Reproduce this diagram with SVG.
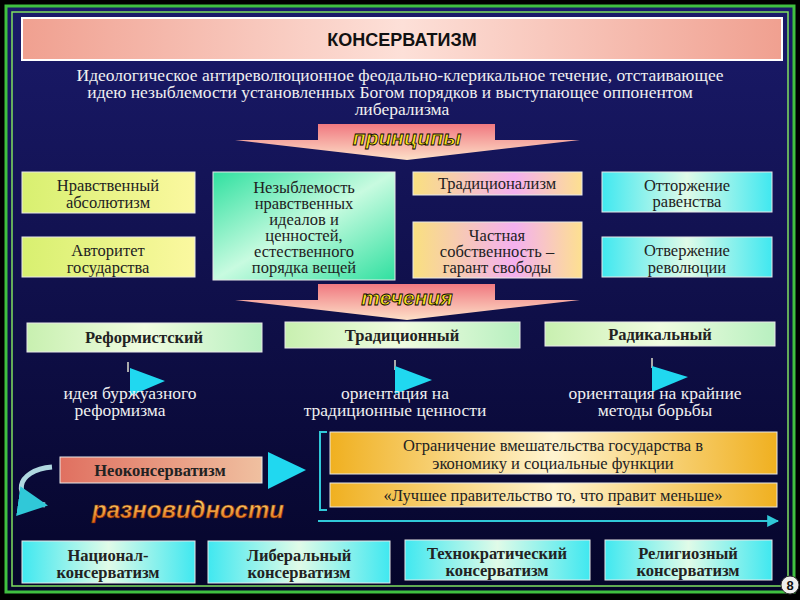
<svg xmlns="http://www.w3.org/2000/svg" width="800" height="600" viewBox="0 0 800 600">
<defs>
<linearGradient id="bg" x1="0" y1="0" x2="0" y2="1"><stop offset="0" stop-color="#1a1a6a"/><stop offset="1" stop-color="#05052a"/></linearGradient>
<linearGradient id="title" x1="0" y1="0" x2="1" y2="0"><stop offset="0" stop-color="#f0a090"/><stop offset="0.5" stop-color="#fde0d8"/><stop offset="1" stop-color="#f0a090"/></linearGradient>
<linearGradient id="yg" x1="0" y1="0" x2="1" y2="0"><stop offset="0" stop-color="#d8f070"/><stop offset="1" stop-color="#fbf8a0"/></linearGradient>
<linearGradient id="gr" x1="0" y1="0" x2="1" y2="1"><stop offset="0" stop-color="#30e0a0"/><stop offset="0.5" stop-color="#c8fbe0"/><stop offset="1" stop-color="#30e0a0"/></linearGradient>
<linearGradient id="pk" x1="0" y1="0" x2="1" y2="0"><stop offset="0" stop-color="#f9e080"/><stop offset="0.6" stop-color="#f4b0f0"/><stop offset="1" stop-color="#fde090"/></linearGradient>
<linearGradient id="cy" x1="0" y1="0" x2="1" y2="0"><stop offset="0" stop-color="#40e8f0"/><stop offset="0.5" stop-color="#e0fbe8"/><stop offset="1" stop-color="#40e8f0"/></linearGradient>
<linearGradient id="lg" x1="0" y1="0" x2="1" y2="0"><stop offset="0" stop-color="#c8f0b0"/><stop offset="0.5" stop-color="#f0fce0"/><stop offset="1" stop-color="#b8f0c0"/></linearGradient>
<linearGradient id="or" x1="0" y1="0" x2="1" y2="0"><stop offset="0" stop-color="#f0b020"/><stop offset="0.5" stop-color="#fff4d0"/><stop offset="1" stop-color="#f0b020"/></linearGradient>
<linearGradient id="sal" x1="0" y1="0" x2="1" y2="0"><stop offset="0" stop-color="#e07060"/><stop offset="1" stop-color="#f0c0a0"/></linearGradient>
<linearGradient id="arr" x1="0" y1="0" x2="0" y2="1"><stop offset="0" stop-color="#f07880"/><stop offset="1" stop-color="#fde0c8"/></linearGradient>
<linearGradient id="raz" x1="0" y1="0" x2="0" y2="1"><stop offset="0" stop-color="#fff080"/><stop offset="1" stop-color="#e06010"/></linearGradient>
<marker id="ah" viewBox="0 0 10 10" refX="9" refY="5" markerWidth="6" markerHeight="6" orient="auto"><path d="M0,0 L10,5 L0,10 z" fill="#30c8d8"/></marker>
</defs>
<style>
.t{font-family:"Liberation Serif",serif;font-size:16.5px;fill:#222;text-anchor:middle}
.b{font-weight:bold}
.w{font-family:"Liberation Serif",serif;font-size:17.5px;fill:#f0f0f0;text-anchor:middle}
.bx{stroke:#e8e8e8;stroke-width:1}
.tri{fill:#20d8f0}
.stem{stroke:#aaa;stroke-width:2}
.lbl{font-family:"Liberation Sans",sans-serif;font-weight:bold;font-style:italic;font-size:21px;text-anchor:middle;stroke:#000;stroke-width:0.8}
</style>
<rect width="800" height="600" fill="#000"/>
<rect x="6" y="6" width="788" height="586" fill="url(#bg)" stroke="#40c040" stroke-width="3"/>
<rect x="12" y="12" width="776" height="574" fill="none" stroke="#80e060" stroke-width="1.5"/>
<g id="title-node"><rect x="22" y="18" width="760" height="42" fill="url(#title)" stroke="#fff" stroke-width="2"/><text x="402" y="46" font-family="Liberation Sans,sans-serif" font-weight="bold" font-size="18" text-anchor="middle" fill="#111">КОНСЕРВАТИЗМ</text></g>
<g id="definition"><text class="w" x="400" y="81">Идеологическое антиреволюционное феодально-клерикальное течение, отстаивающее</text><text class="w" x="390" y="98">идею незыблемости установленных Богом порядков и выступающее оппонентом</text><text class="w" x="402" y="115">либерализма</text></g>
<g id="arrow-principles"><path d="M318,124 H495 V140 H580 L407,160 L235,140 H318 Z" fill="url(#arr)"/><text class="lbl" x="407" y="145" fill="#f8e020">принципы</text></g>
<g id="n1"><rect class="bx" x="22" y="172" width="173" height="41" fill="url(#yg)"/><text class="t" x="108" y="191">Нравственный</text><text class="t" x="108" y="208">абсолютизм</text></g>
<g id="n2"><rect class="bx" x="22" y="237" width="173" height="40" fill="url(#yg)"/><text class="t" x="108" y="256">Авторитет</text><text class="t" x="108" y="273">государства</text></g>
<g id="n3"><rect class="bx" x="213" y="172" width="182" height="108" fill="url(#gr)"/><text class="t" x="304" y="193">Незыблемость</text><text class="t" x="304" y="209">нравственных</text><text class="t" x="304" y="225">идеалов и</text><text class="t" x="304" y="241">ценностей,</text><text class="t" x="304" y="257">естественного</text><text class="t" x="304" y="273">порядка вещей</text></g>
<g id="n4"><rect class="bx" x="413" y="172" width="169" height="23" fill="url(#pk)"/><text class="t" x="497" y="189">Традиционализм</text></g>
<g id="n5"><rect class="bx" x="413" y="222" width="169" height="56" fill="url(#pk)"/><text class="t" x="497" y="241">Частная</text><text class="t" x="497" y="257">собственность –</text><text class="t" x="497" y="273">гарант свободы</text></g>
<g id="n6"><rect class="bx" x="602" y="172" width="170" height="40" fill="url(#cy)"/><text class="t" x="687" y="191">Отторжение</text><text class="t" x="687" y="207">равенства</text></g>
<g id="n7"><rect class="bx" x="602" y="237" width="170" height="40" fill="url(#cy)"/><text class="t" x="687" y="256">Отвержение</text><text class="t" x="687" y="273">революции</text></g>
<g id="arrow-currents"><path d="M318,284 H495 V300 H580 L407,320 L235,300 H318 Z" fill="url(#arr)"/><text class="lbl" x="407" y="305" fill="#f8e020">течения</text></g>
<g id="c1"><rect class="bx" x="27" y="323" width="235" height="29" fill="url(#lg)"/><text class="t b" x="144" y="343">Реформистский</text></g>
<g id="c2"><rect class="bx" x="285" y="322" width="235" height="26" fill="url(#lg)"/><text class="t b" x="402" y="341">Традиционный</text></g>
<g id="c3"><rect class="bx" x="545" y="322" width="230" height="24" fill="url(#lg)"/><text class="t b" x="660" y="340">Радикальный</text></g>
<g id="connectors">
<line class="stem" x1="128" y1="362" x2="128" y2="372"/>
<line class="stem" x1="395" y1="360" x2="395" y2="370"/>
<line class="stem" x1="652" y1="358" x2="652" y2="368"/>
<path class="tri" d="M130,368 L165,381 L130,396 Z"/>
<path class="tri" d="M395,366 L432,380 L395,394 Z"/>
<path class="tri" d="M652,366 L688,377 L652,392 Z"/>
<path class="tri" d="M268,452 L306,470 L268,489 Z"/>
<path d="M327,432 H320 V510 H327" fill="none" stroke="#30c8d8" stroke-width="2"/>
<line x1="318" y1="521" x2="778" y2="521" stroke="#30c8d8" stroke-width="2" marker-end="url(#ah)"/>
<path d="M52,467 C15,470 10,500 45,505" fill="none" stroke="#b0d8e0" stroke-width="5" marker-end="url(#ah)"/>
</g>
<g id="d1"><text class="w" x="130" y="399">идея буржуазного</text><text class="w" x="120" y="416">реформизма</text></g>
<g id="d2"><text class="w" x="395" y="399">ориентация на</text><text class="w" x="395" y="416">традиционные ценности</text></g>
<g id="d3"><text class="w" x="655" y="399">ориентация на крайние</text><text class="w" x="655" y="416">методы борьбы</text></g>
<g id="neo"><rect class="bx" x="60" y="457" width="202" height="26" fill="url(#sal)"/><text class="t b" x="160" y="476">Неоконсерватизм</text></g>
<g id="o1"><rect class="bx" x="330" y="432" width="447" height="42" fill="url(#or)"/><text class="t" x="553" y="451">Ограничение вмешательства государства в</text><text class="t" x="553" y="469">экономику и социальные функции</text></g>
<g id="o2"><rect class="bx" x="330" y="483" width="447" height="24" fill="url(#or)"/><text class="t" x="553" y="501">«Лучшее правительство то, что правит меньше»</text></g>
<text x="188" y="518" font-family="Liberation Sans,sans-serif" font-weight="bold" font-style="italic" font-size="24" text-anchor="middle" fill="url(#raz)" stroke="#702000" stroke-width="0.6">разновидности</text>
<g id="v1"><rect class="bx" x="22" y="541" width="173" height="42" fill="url(#cy)"/><text class="t b" x="108" y="561">Национал-</text><text class="t b" x="108" y="578">консерватизм</text></g>
<g id="v2"><rect class="bx" x="208" y="541" width="182" height="42" fill="url(#cy)"/><text class="t b" x="299" y="561">Либеральный</text><text class="t b" x="299" y="578">консерватизм</text></g>
<g id="v3"><rect class="bx" x="405" y="540" width="185" height="40" fill="url(#cy)"/><text class="t b" x="497" y="559">Технократический</text><text class="t b" x="497" y="576">консерватизм</text></g>
<g id="v4"><rect class="bx" x="605" y="540" width="167" height="40" fill="url(#cy)"/><text class="t b" x="688" y="559">Религиозный</text><text class="t b" x="688" y="576">консерватизм</text></g>
<g id="page"><circle cx="790" cy="585" r="9" fill="#eee" stroke="#333"/><text x="790" y="590" font-family="Liberation Sans,sans-serif" font-weight="bold" font-size="13" text-anchor="middle" fill="#111">8</text></g>
</svg>
